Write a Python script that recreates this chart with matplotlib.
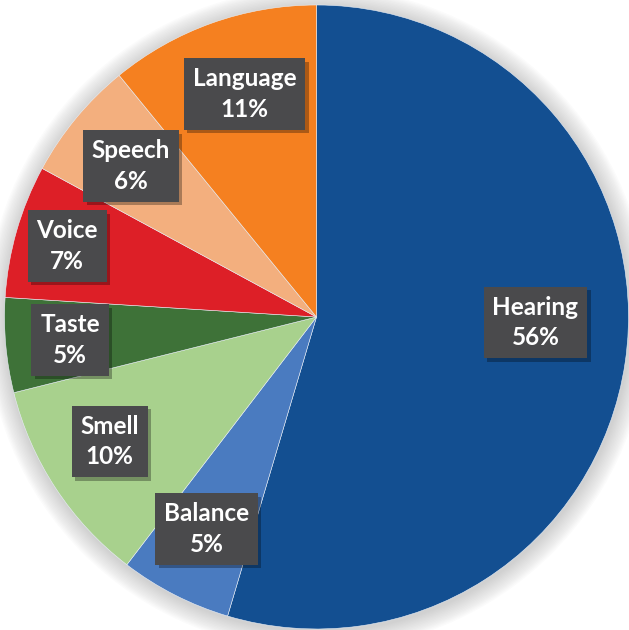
import matplotlib.pyplot as plt
import matplotlib.patheffects as pe
from matplotlib.patches import Circle

# slice values, labels as printed
categories = ["Hearing", "Balance", "Smell", "Taste", "Voice", "Speech", "Language"]
values = [54.6, 5.8, 10.7, 4.9, 6.9, 6.2, 10.9]
pct_labels = ["56%", "5%", "10%", "5%", "7%", "6%", "11%"]
colors = ["#134F91", "#4A7BC0", "#A8D18D", "#3E7238", "#DD1F27", "#F3AF7E", "#F58020"]

# label box centres in image pixels (x right, y down)
label_pos = [(535.5, 322.5), (206.5, 529), (109.5, 441.5), (70, 340),
             (67, 246), (131, 166), (244.5, 94)]

W, H = 629, 630
cx, cy, r = 316.5, H - 317, 312

fig = plt.figure(figsize=(W / 100, H / 100), dpi=100)
ax = fig.add_axes([0, 0, 1, 1])

# soft shadow around the pie
for k in range(14, 0, -1):
    ax.add_patch(Circle((cx + 1, cy - 2), r + k * 1.4, color="#909090",
                        alpha=0.03, lw=0, zorder=0))

ax.pie(values, colors=colors, startangle=90, counterclock=False,
       center=(cx, cy), radius=r, frame=True,
       wedgeprops=dict(edgecolor="#e8eef6", linewidth=0.4))

for name, pct, (x, y) in zip(categories, pct_labels, label_pos):
    t = ax.text(x, H - y, f"{name}\n{pct}", ha="center", va="center",
                color="white", fontsize=17.5, fontweight="bold",
                family=["Lato", "DejaVu Sans"], linespacing=1.4, zorder=5,
                bbox=dict(boxstyle="square,pad=0.36", fc="#4A4A4C", ec="none"))
    t.get_bbox_patch().set_path_effects(
        [pe.SimplePatchShadow(offset=(2.5, -2.5), shadow_rgbFace="black", alpha=0.3),
         pe.Normal()])

ax.set_xlim(0, W)
ax.set_ylim(0, H)
ax.set_aspect("equal")
ax.axis("off")

fig.savefig("out.png", dpi=100)
